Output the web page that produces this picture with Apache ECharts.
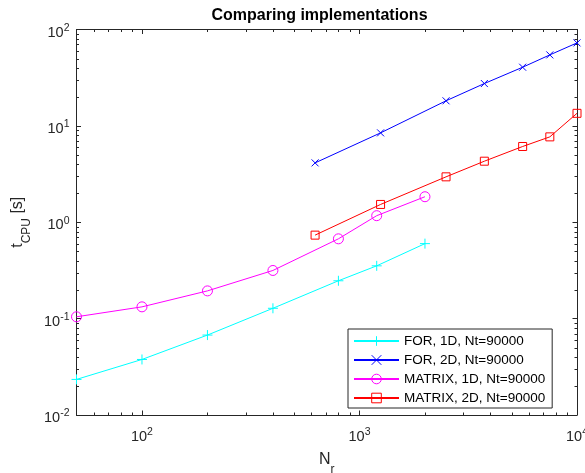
<!DOCTYPE html>
<html><head><meta charset="utf-8">
<script src="https://cdn.jsdelivr.net/npm/echarts@6/dist/echarts.min.js"></script>
<style>html,body{margin:0;padding:0;background:#fff}#c{width:585px;height:473px}</style>
</head><body><div id="c"></div>
<script>
// ---- data ----
const seriesNames = ['FOR, 1D, Nt=90000', 'FOR, 2D, Nt=90000', 'MATRIX, 1D, Nt=90000', 'MATRIX, 2D, Nt=90000'];
const nr1D = [50, 100, 200, 400, 800, 1200, 2000];
const nr2D = [625, 1250, 2500, 3750, 5625, 7500, 10000];
const tFor1D = [0.0234, 0.0377, 0.0675, 0.128, 0.247, 0.353, 0.60];
const tFor2D = [4.13, 8.46, 18.2, 27.5, 40.6, 54.5, 72.6];
const tMat1D = [0.1045, 0.1325, 0.194, 0.316, 0.673, 1.17, 1.84];
const tMat2D = [0.735, 1.53, 2.96, 4.30, 6.11, 7.69, 13.5];
const xRange = [50, 10000];
const yRange = [0.01, 100];
const titleText = 'Comparing implementations';

const AX = '#262626';
const FONT = '"Liberation Sans", Arial, Helvetica, sans-serif';

const chart = echarts.init(document.getElementById('c'), null, {renderer: 'canvas'});

function fmtPow(v) {
  const e = Math.log10(v), r = Math.round(e);
  if (Math.abs(e - r) > 1e-6) return '';
  return '{b|10}{s|' + r + '}';
}
const richLab = {
  b: {fontSize: 14.5, lineHeight: 20, color: AX, fontFamily: FONT},
  s: {fontSize: 10.5, lineHeight: 12, verticalAlign: 'top', color: AX, fontFamily: FONT}
};

function axis(pos, range, labels, extra) {
  return Object.assign({
    type: 'log', logBase: 10, min: range[0], max: range[1], position: pos,
    axisLine: {show: true, onZero: false, lineStyle: {color: AX, width: 1}},
    axisTick: {show: true, inside: true, length: 4.5, lineStyle: {color: AX, width: 1}},
    minorTick: {show: false}, splitLine: {show: false},
    axisLabel: labels ? {show: true, formatter: fmtPow, rich: richLab, showMinLabel: true, showMaxLabel: true} : {show: false}
  }, extra || {});
}

function mk(name, xs, ys, color, symbol, size) {
  return {
    name, type: 'line', xAxisIndex: 0, yAxisIndex: 0,
    data: xs.map((x, i) => [x, ys[i]]),
    symbol, symbolSize: size, showSymbol: true, symbolKeepAspect: true,
    lineStyle: {color, width: 1},
    itemStyle: {color: 'rgba(0,0,0,0)', borderColor: color, borderWidth: 1},
    emphasis: {disabled: true}
  };
}

const plus = 'path://M5,0L5,10M0,5L10,5';
const cross = 'path://M0,0L10,10M0,10L10,0';

const option = {
  animation: false,
  backgroundColor: '#fff',
  textStyle: {fontFamily: FONT},
  title: {
    text: titleText, left: 211.5, top: 8, padding: 0,
    textStyle: {fontSize: 16, fontWeight: 'bold', color: '#000', fontFamily: FONT}
  },
  grid: {left: 76.5, right: 8, top: 29.5, bottom: 58, containLabel: false, outerBoundsMode: 'none'},
  xAxis: [
    axis('bottom', xRange, true, {
      name: 'N{sub|r}', nameLocation: 'middle', nameGap: 37,
      nameTextStyle: {color: AX, fontSize: 16, fontFamily: FONT,
        rich: {sub: {fontSize: 12, verticalAlign: 'bottom', lineHeight: 12, padding: [0,0,-8,0]}}},
      axisLabel: {show: true, formatter: fmtPow, rich: richLab, margin: 12}
    }),
    axis('top', xRange, false)
  ],
  yAxis: [
    axis('left', yRange, true, {
      name: 't{sub|CPU} [s]', nameLocation: 'middle', nameGap: 50, nameRotate: 90,
      nameTextStyle: {color: AX, fontSize: 16, fontFamily: FONT,
        rich: {sub: {fontSize: 12, verticalAlign: 'bottom', lineHeight: 12, padding: [0,0,-8,0]}}},
      axisLabel: {show: true, formatter: fmtPow, rich: richLab, margin: 7, padding: [6, 0, 0, 0]}
    }),
    axis('right', yRange, false)
  ],
  legend: {
    show: true, orient: 'vertical', left: 348, top: 329,
    backgroundColor: '#fff', borderColor: AX, borderWidth: 1,
    padding: [5, 7, 3, 5], itemWidth: 45, itemHeight: 12, itemGap: 5,
    itemStyle: {borderWidth: 1},
    textStyle: {fontSize: 13.5, color: '#000', lineHeight: 12, fontFamily: FONT},
    data: seriesNames
  },
  series: [
    mk(seriesNames[0], nr1D, tFor1D, '#00FFFF', plus, 10),
    mk(seriesNames[1], nr2D, tFor2D, '#0000FF', cross, 7),
    mk(seriesNames[2], nr1D, tMat1D, '#FF00FF', 'circle', 10),
    mk(seriesNames[3], nr2D, tMat2D, '#FF0000', 'rect', 8)
  ]
};
chart.setOption(option);

// minor log ticks (2..9 x 10^k) placed through the axes' own scales
function minorVals(lo, hi) {
  const out = [];
  for (let e = Math.floor(Math.log10(lo)); e < Math.log10(hi); e++)
    for (let m = 2; m <= 9; m++) { const v = m * Math.pow(10, e); if (v > lo * 1.0001 && v < hi * 0.9999) out.push(v); }
  return out;
}
const gx0 = chart.convertToPixel({xAxisIndex: 0}, xRange[0]);
const gx1 = chart.convertToPixel({xAxisIndex: 0}, xRange[1]);
const gy0 = chart.convertToPixel({yAxisIndex: 0}, yRange[0]);
const gy1 = chart.convertToPixel({yAxisIndex: 0}, yRange[1]);
const L = 2.5, els = [];
const sty = {stroke: AX, lineWidth: 1};
minorVals(xRange[0], xRange[1]).forEach(v => {
  const p = Math.round(chart.convertToPixel({xAxisIndex: 0}, v)) + 0.5;
  els.push({type: 'line', silent: true, shape: {x1: p, y1: gy0, x2: p, y2: gy0 - L}, style: sty});
  els.push({type: 'line', silent: true, shape: {x1: p, y1: gy1, x2: p, y2: gy1 + L}, style: sty});
});
minorVals(yRange[0], yRange[1]).forEach(v => {
  const p = Math.round(chart.convertToPixel({yAxisIndex: 0}, v)) + 0.5;
  els.push({type: 'line', silent: true, shape: {x1: gx0, y1: p, x2: gx0 + L, y2: p}, style: sty});
  els.push({type: 'line', silent: true, shape: {x1: gx1, y1: p, x2: gx1 - L, y2: p}, style: sty});
});
chart.setOption({graphic: els});
</script>
</body></html>
